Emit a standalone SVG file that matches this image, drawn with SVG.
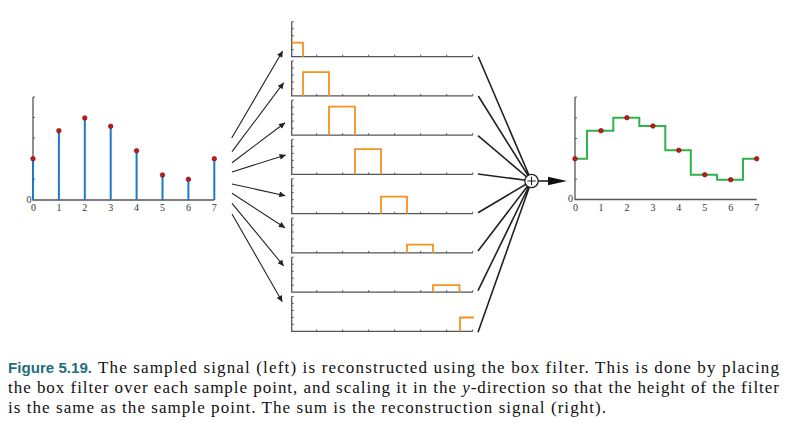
<svg xmlns="http://www.w3.org/2000/svg" width="793" height="433" viewBox="0 0 793 433">
<defs>
<style>
.ax{stroke:#555;stroke-width:1.3;fill:none}
.tk{stroke:#555;stroke-width:1;fill:none}
.stem{stroke:#1b7bc4;stroke-width:2;fill:none}
.dot{fill:#d01414;stroke:#5a1010;stroke-width:0.6}
.box{stroke:#f6921e;stroke-width:1.8;fill:none}
.grn{stroke:#2fb34a;stroke-width:2;fill:none}
.arr{stroke:#222;stroke-width:1.1;fill:none}
.ln{stroke:#222;stroke-width:1.6;fill:none}
.lbl{font-family:'Liberation Serif',serif;font-size:10px;fill:#333;text-anchor:middle}
.cap{font-family:'Liberation Serif',serif;font-size:17px;fill:#111}
</style>
<marker id="ah" viewBox="0 0 10 10" refX="10" refY="5" markerWidth="8" markerHeight="6" markerUnits="userSpaceOnUse" orient="auto">
<path d="M0,0 L10,5 L0,10 z" fill="#222"/>
</marker>
<g id="pax">
<path class="ax" d="M0,-35 V0 H181"/>
<path class="tk" d="M0,-7 h2 M0,-14 h2 M0,-21 h2 M0,-28 h2 M0,-35 h2 M25,0 v-2 M51,0 v-2 M77,0 v-2 M103,0 v-2 M129,0 v-2 M155,0 v-2 M181,0 v-2"/>
</g>
</defs>

<g id="left-chart">
<path class="ax" d="M33,97 V200 H214.3"/>
<path class="tk" d="M33,97 h2 M33,117.4 h2 M33,138 h2 M33,158.6 h2 M33,179.2 h2"/>
<path class="stem" d="M33,200 V158.7 M58.9,200 V130.7 M84.8,200 V118 M110.7,200 V126.3 M136.6,200 V150.7 M162.5,200 V175 M188.4,200 V179.3 M214.3,200 V158.7"/>
<g>
<circle class="dot" cx="33" cy="158.7" r="2.3"/>
<circle class="dot" cx="58.9" cy="130.7" r="2.3"/>
<circle class="dot" cx="84.8" cy="118" r="2.3"/>
<circle class="dot" cx="110.7" cy="126.3" r="2.3"/>
<circle class="dot" cx="136.6" cy="150.7" r="2.3"/>
<circle class="dot" cx="162.5" cy="175" r="2.3"/>
<circle class="dot" cx="188.4" cy="179.3" r="2.3"/>
<circle class="dot" cx="214.3" cy="158.7" r="2.3"/>
</g>
<text class="lbl" x="29" y="203">0</text>
<text class="lbl" x="33.5" y="210.5">0</text>
<text class="lbl" x="58.9" y="210.5">1</text>
<text class="lbl" x="84.8" y="210.5">2</text>
<text class="lbl" x="110.7" y="210.5">3</text>
<text class="lbl" x="136.6" y="210.5">4</text>
<text class="lbl" x="162.5" y="210.5">5</text>
<text class="lbl" x="188.4" y="210.5">6</text>
<text class="lbl" x="214.3" y="210.5">7</text>
</g>

<g id="panel-0"><use href="#pax" x="291.7" y="56.7"/><path class="box" d="M291.7,42.7 H303 V56.7"/></g>
<g id="panel-1"><use href="#pax" x="291.7" y="95.95"/><path class="box" d="M303,95.95 V72.2 H329 V95.95"/></g>
<g id="panel-2"><use href="#pax" x="291.7" y="135.2"/><path class="box" d="M329,135.2 V106.7 H355 V135.2"/></g>
<g id="panel-3"><use href="#pax" x="291.7" y="174.45"/><path class="box" d="M355,174.45 V149.1 H381 V174.45"/></g>
<g id="panel-4"><use href="#pax" x="291.7" y="213.7"/><path class="box" d="M381,213.7 V196.7 H407 V213.7"/></g>
<g id="panel-5"><use href="#pax" x="291.7" y="252.95"/><path class="box" d="M407,252.95 V244.6 H433 V252.95"/></g>
<g id="panel-6"><use href="#pax" x="291.7" y="292.2"/><path class="box" d="M433,292.2 V285.2 H459.5 V292.2"/></g>
<g id="panel-7"><use href="#pax" x="291.7" y="331.45"/><path class="box" d="M460,331.45 V317.5 H474"/></g>

<g id="connectors">
<line class="arr" x1="231.7" y1="138" x2="282.7" y2="51" marker-end="url(#ah)"/>
<line class="arr" x1="232" y1="151.7" x2="283.7" y2="82.7" marker-end="url(#ah)"/>
<line class="arr" x1="232" y1="162.7" x2="285" y2="122.7" marker-end="url(#ah)"/>
<line class="arr" x1="232" y1="172" x2="285.7" y2="155" marker-end="url(#ah)"/>
<line class="arr" x1="232" y1="184" x2="285.3" y2="195.7" marker-end="url(#ah)"/>
<line class="arr" x1="232" y1="193.3" x2="285" y2="227.7" marker-end="url(#ah)"/>
<line class="arr" x1="232" y1="203.3" x2="283.7" y2="266" marker-end="url(#ah)"/>
<line class="arr" x1="232" y1="214" x2="282.3" y2="301.7" marker-end="url(#ah)"/>
<path class="ln" d="M478.3,56.7 L531.5,181 M478.3,96 L531.5,181 M478,135.7 L531.5,181 M478,174 L531.5,181 M478,212.7 L531.5,181 M478,251 L531.5,181 M478,290.7 L531.5,181 M478,332.3 L531.5,181"/>
<path class="ln" d="M538,181 H549"/>
<path d="M548,176.8 L567,181 L548,185.2 z" fill="#111"/>
</g>

<g id="sum">
<circle cx="531.5" cy="181" r="6.7" fill="#fff" stroke="#222" stroke-width="1.3"/>
<path d="M527.3,181 H535.7 M531.5,176.8 V185.2" stroke="#222" stroke-width="1.1"/>
</g>

<g id="right-chart">
<path class="ax" d="M575,97 V199.5 H756.7"/>
<path class="tk" d="M575,97 h2 M575,118 h2 M575,138.5 h2 M575,159 h2 M575,179.2 h2"/>
<path class="grn" d="M575,158.7 H587 V130.7 H613.3 V117.7 H639.3 V126 H665.3 V150.3 H690.8 V174.7 H717 V179.7 H743 V158.7 H756.7"/>
<g>
<circle class="dot" cx="575" cy="158.7" r="2.3"/>
<circle class="dot" cx="601" cy="130.7" r="2.3"/>
<circle class="dot" cx="626.9" cy="117.7" r="2.3"/>
<circle class="dot" cx="652.9" cy="126" r="2.3"/>
<circle class="dot" cx="678.8" cy="150.3" r="2.3"/>
<circle class="dot" cx="704.8" cy="174.7" r="2.3"/>
<circle class="dot" cx="730.7" cy="179.7" r="2.3"/>
<circle class="dot" cx="756.7" cy="158.7" r="2.3"/>
</g>
<text class="lbl" x="570.5" y="202">0</text>
<text class="lbl" x="575.5" y="210.5">0</text>
<text class="lbl" x="601" y="210.5">1</text>
<text class="lbl" x="626.9" y="210.5">2</text>
<text class="lbl" x="652.9" y="210.5">3</text>
<text class="lbl" x="678.8" y="210.5">4</text>
<text class="lbl" x="704.8" y="210.5">5</text>
<text class="lbl" x="730.7" y="210.5">6</text>
<text class="lbl" x="756.7" y="210.5">7</text>
</g>

<g id="caption" font-family="'Liberation Serif',serif">
<text x="8" y="373" font-family="'Liberation Sans',sans-serif" font-weight="bold" font-size="15.5px" fill="#1f6f7c" textLength="84" lengthAdjust="spacingAndGlyphs">Figure 5.19.</text>
<text class="cap" font-family="'Liberation Serif',serif" x="98" y="373" textLength="681" lengthAdjust="spacing">The sampled signal (left) is reconstructed using the box filter. This is done by placing</text>
<text class="cap" font-family="'Liberation Serif',serif" x="8" y="393" textLength="771" lengthAdjust="spacing">the box filter over each sample point, and scaling it in the <tspan font-style="italic">y</tspan>-direction so that the height of the filter</text>
<text class="cap" font-family="'Liberation Serif',serif" x="8" y="413" textLength="598" lengthAdjust="spacing">is the same as the sample point. The sum is the reconstruction signal (right).</text>
</g>
</svg>
